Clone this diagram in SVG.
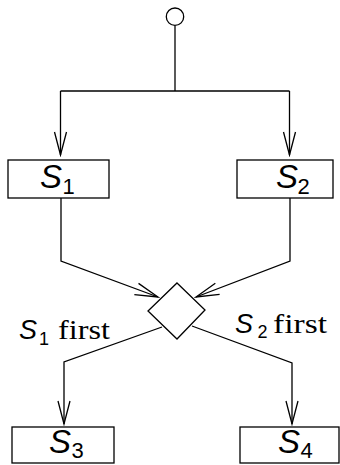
<svg xmlns="http://www.w3.org/2000/svg" width="340" height="465" viewBox="0 0 340 465">
<style>
.ln{fill:none;stroke:#000;stroke-width:1.3}
.bx{fill:#fff;stroke:#000;stroke-width:1.3}
.s{font-family:"Liberation Sans",Arial,sans-serif;font-style:italic;fill:#000}
.d{font-family:"Liberation Sans",Arial,sans-serif;font-style:normal;fill:#000}
.r{font-family:"Liberation Serif","Times New Roman",serif;fill:#000}
.big{font-size:33px}
.bsub{font-size:22px}
.lab{font-size:27px}
.lsub{font-size:18px}
</style>
<defs>
<marker id="ah" markerUnits="userSpaceOnUse" viewBox="-26 -8 28 16" refX="0" refY="0" markerWidth="28" markerHeight="16" orient="auto">
<path d="M-23,-6 L0,0 L-23,6" fill="none" stroke="#000" stroke-width="1.3"/>
</marker>
</defs>
<g id="connectors">
<path class="ln" d="M175,25.5 V91"/>
<path class="ln" d="M60.5,91 H289.5"/>
<path class="ln" d="M60.5,91 V155" marker-end="url(#ah)"/>
<path class="ln" d="M289.5,91 V155" marker-end="url(#ah)"/>
<path class="ln" d="M61,198 V261 L158,297" marker-end="url(#ah)"/>
<path class="ln" d="M290,198 V261 L196,297" marker-end="url(#ah)"/>
<path class="ln" d="M162,327 L64,362 V424" marker-end="url(#ah)"/>
<path class="ln" d="M192,326 L292,363 V424" marker-end="url(#ah)"/>
</g>
<g id="start"><circle class="bx" cx="175" cy="16.7" r="8.7"/></g>
<g id="decision"><polygon class="bx" points="177,283 205,310 177,339 148,311"/></g>
<g id="S1"><rect class="bx" x="8" y="160" width="101" height="38"/>
<text class="s big" x="40" y="188">S</text><text class="d bsub" x="62.5" y="194">1</text></g>
<g id="S2"><rect class="bx" x="237" y="160" width="96" height="38"/>
<text class="s big" x="276" y="188">S</text><text class="d bsub" x="297.5" y="194">2</text></g>
<g id="S3"><rect class="bx" x="12" y="427" width="102" height="36"/>
<text class="s big" x="49" y="453">S</text><text class="d bsub" x="71.5" y="458">3</text></g>
<g id="S4"><rect class="bx" x="240" y="427" width="99" height="36"/>
<text class="s big" x="278" y="453">S</text><text class="d bsub" x="300.5" y="458">4</text></g>
<g id="labels">
<text class="s lab" x="19" y="339">S</text><text class="d lsub" x="39" y="345">1</text>
<text class="r" x="58" y="339" font-size="27" textLength="52" lengthAdjust="spacingAndGlyphs">first</text>
<text class="s lab" x="235" y="333">S</text><text class="d lsub" x="257.5" y="338">2</text>
<text class="r" x="273" y="333" font-size="27" textLength="54" lengthAdjust="spacingAndGlyphs">first</text>
</g>
</svg>
